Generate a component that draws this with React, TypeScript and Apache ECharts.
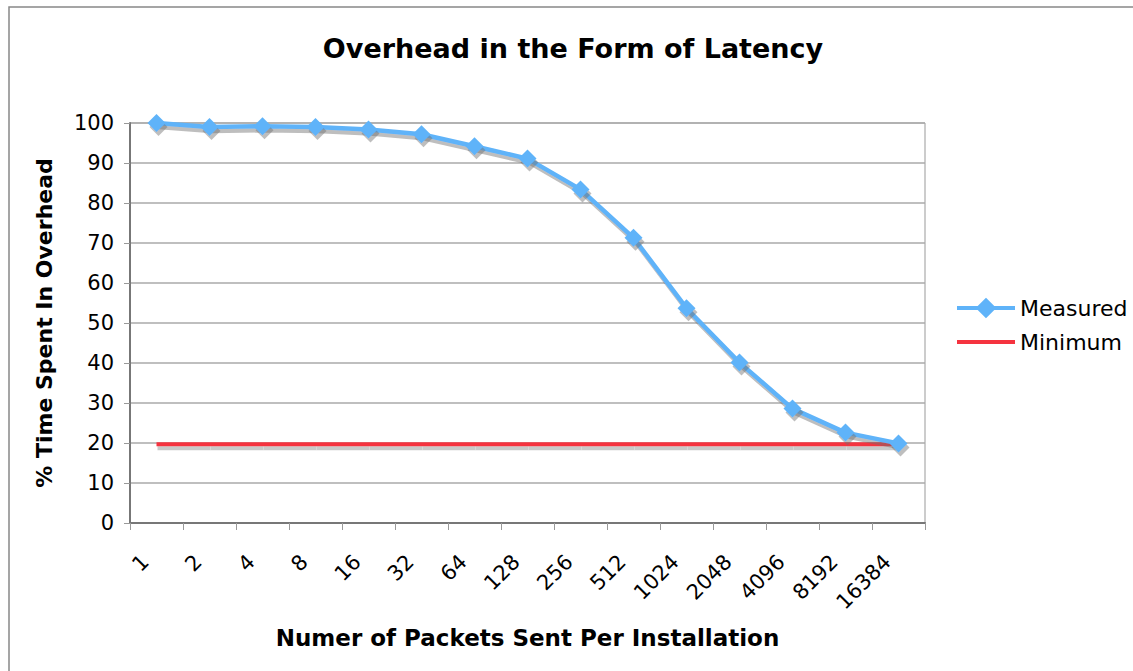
import React, { useEffect, useRef } from "react";
import * as echarts from "echarts";

const categories = ["1", "2", "4", "8", "16", "32", "64", "128", "256", "512", "1024", "2048", "4096", "8192", "16384"];
const measured = [100, 99, 99.2, 99, 98.4, 97.2, 94.2, 91.1, 83.4, 71.3, 53.7, 40.1, 28.6, 22.6, 19.9];
const minimumValue = 19.7;
const minimum = categories.map(() => minimumValue);
const yTicks = { min: 0, max: 100, interval: 10 };

const FONT = "DejaVu Sans, Verdana, sans-serif";
const BLUE = "#5fb3f9";
const RED = "#f5333f";

export default function App() {
  const ref = useRef<HTMLDivElement>(null);
  useEffect(() => {
    const chart = echarts.init(ref.current!, null, { renderer: "svg" });
    const shadow = { shadowColor: "rgba(110,110,110,0.45)", shadowOffsetX: 2, shadowOffsetY: 4, shadowBlur: 1 };
    chart.setOption({
      animation: false,
      backgroundColor: "#fff",
      title: {
        text: "Overhead in the Form of Latency",
        left: 568,
        textAlign: "center",
        top: 30,
        textStyle: { fontFamily: FONT, fontWeight: "bold", fontSize: 27, color: "#000" },
      },
      graphic: [
        {
          type: "rect",
          shape: { x: 9, y: 7, width: 1140, height: 700 },
          style: { fill: "none", stroke: "#888", lineWidth: 1.5 },
          silent: true,
          z: -1,
        },
      ],
      legend: {
        orient: "vertical",
        left: 950,
        top: 292,
        itemWidth: 58,
        itemHeight: 22,
        itemGap: 12,
        textStyle: { fontFamily: FONT, fontSize: 22, color: "#000" },
        data: [
          {
            name: "Measured",
            icon: "path://M0,9 L20,9 L28,1 L36,9 L56,9 L56,13 L36,13 L28,21 L20,13 L0,13 Z",
            itemStyle: { color: BLUE },
          },
          { name: "Minimum", lineStyle: { width: 4, color: RED }, itemStyle: { opacity: 0 } },
        ],
      },
      grid: { left: 130, right: 208, top: 123, bottom: 148, show: true, borderColor: "#999", borderWidth: 1 },
      xAxis: {
        type: "category",
        data: categories,
        boundaryGap: true,
        name: "Numer of Packets Sent Per Installation",
        nameLocation: "middle",
        nameGap: 103,
        nameTextStyle: { fontFamily: FONT, fontWeight: "bold", fontSize: 23, color: "#000" },
        axisLine: { lineStyle: { color: "#777", width: 2 } },
        axisTick: { show: true, length: 7, lineStyle: { color: "#999" } },
        axisLabel: {
          rotate: 45,
          interval: 0,
          margin: 24,
          padding: [0, 16, 0, 0],
          fontFamily: FONT,
          fontSize: 21,
          color: "#000",
        },
        splitLine: { show: false },
      },
      yAxis: {
        type: "value",
        min: yTicks.min,
        max: yTicks.max,
        interval: yTicks.interval,
        name: "% Time Spent In Overhead",
        nameLocation: "middle",
        nameGap: 75,
        nameTextStyle: { fontFamily: FONT, fontWeight: "bold", fontSize: 22, color: "#000" },
        axisLine: { show: true, lineStyle: { color: "#777", width: 2 } },
        axisTick: { show: true, length: 6, lineStyle: { color: "#999" } },
        axisLabel: { fontFamily: FONT, fontSize: 21, color: "#000", margin: 16 },
        splitLine: { show: true, lineStyle: { color: "#aaa", width: 1.5 } },
      },
      series: [
        {
          name: "MinimumShadow",
          type: "custom",
          data: categories.map((c, i) => [c, minimum[i]]),
          silent: true,
          z: 1,
          renderItem: (params: any, api: any) => {
            const i = params.dataIndex;
            if (i >= minimum.length - 1) return null;
            const a = api.coord([api.value(0), api.value(1)]);
            const b = api.coord([api.value(0) + 1, minimum[i + 1]]);
            return {
              type: "line",
              shape: { x1: a[0] + 1, y1: a[1] + 4, x2: b[0] + 1, y2: b[1] + 4 },
              style: { stroke: "#c9c9c9", lineWidth: 4 },
            };
          },
        },
        {
          name: "Minimum",
          type: "line",
          data: minimum,
          symbol: "none",
          color: RED,
          lineStyle: { color: RED, width: 4 },
          z: 2,
        },
        {
          name: "Measured",
          type: "line",
          data: measured,
          symbol: "diamond",
          symbolSize: 18,
          color: BLUE,
          lineStyle: { color: BLUE, width: 4.5, ...shadow },
          itemStyle: { color: BLUE, ...shadow },
          z: 3,
        },
      ],
    });
    return () => chart.dispose();
  }, []);
  return <div ref={ref} style={{ position: "fixed", left: 0, top: 0, width: 1133, height: 671 }} />;
}
